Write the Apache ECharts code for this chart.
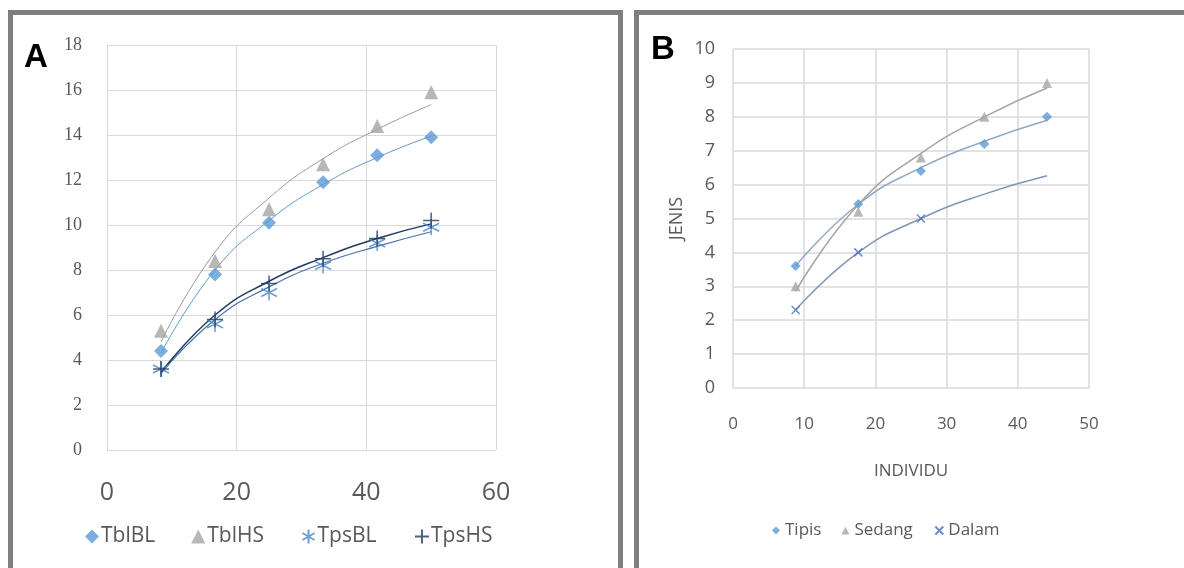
<!DOCTYPE html>
<html><head><meta charset="utf-8">
<script src="https://cdn.jsdelivr.net/npm/echarts@6/dist/echarts.min.js"></script>
<style>html,body{margin:0;padding:0;background:#fff}#c{width:1184px;height:568px}</style>
</head><body><div id="c"></div>
<script>
// Panel A
const xA = [8.33, 16.67, 25, 33.33, 41.67, 50];
const tblBL = [4.4, 7.8, 10.1, 11.9, 13.1, 13.9];
const tblHS = [5.3, 8.4, 10.7, 12.7, 14.4, 15.9];
const tpsBL = [3.6, 5.6, 7.0, 8.2, 9.2, 9.9];
const tpsHS = [3.6, 5.8, 7.4, 8.5, 9.4, 10.2];
// trend lines
const trendTblBL = [4.3, 8.0, 10.2, 11.8, 13.0, 13.95];
const trendTblHS = [4.8, 8.8, 11.2, 12.95, 14.25, 15.35];
const trendTpsBL = [3.4, 5.8, 7.25, 8.3, 9.05, 9.7];
const trendTpsHS = [3.45, 6.0, 7.5, 8.55, 9.4, 10.05];
const namesA = ['TblBL', 'TblHS', 'TpsBL', 'TpsHS'];
// Panel B
const xB = [8.8, 17.6, 26.4, 35.3, 44.1];
const tipis = [3.6, 5.43, 6.4, 7.2, 8.0];
const sedang = [3.0, 5.2, 6.8, 8.0, 9.0];
const dalam = [2.3, 4.0, 5.0];
const trendTipis = [3.6, 5.42, 6.5, 7.28, 7.9];
const trendSedang = [2.85, 5.41, 6.92, 8.0, 8.85];
const trendDalam = [2.3, 4.0, 5.0, 5.72, 6.26];
const namesB = ['Tipis', 'Sedang', 'Dalam'];

const pair = (xs, ys) => ys.map((v, i) => [xs[i], v]);
const asterisk = 'path://M5,0L5,10M0.67,2.5L9.33,7.5M0.67,7.5L9.33,2.5';
const plus = 'path://M5,0L5,10M0,5L10,5';
const cross = 'path://M0,0L10,10M0,10L10,0';

const chart = echarts.init(document.getElementById('c'));
const gridCol = '#d9d9d9';
const txt = '#595959';
function trend(name, data, xi, col, w) {
  return {type: 'line', name: name + '_t', xAxisIndex: xi, yAxisIndex: xi, data: data, smooth: 0.5,
    showSymbol: false, symbol: 'none', silent: true, z: 1,
    lineStyle: {color: col, width: w}};
}
chart.setOption({
  animation: false,
  graphic: [
    {type: 'rect', shape: {x: 10.5, y: 12.5, width: 610, height: 560}, style: {fill: 'none', stroke: '#7f7f7f', lineWidth: 5}},
    {type: 'rect', shape: {x: 636.5, y: 12.5, width: 600, height: 560}, style: {fill: 'none', stroke: '#7f7f7f', lineWidth: 5}},
    {type: 'text', left: 24, top: 41, style: {text: 'A', font: '900 33px "Liberation Sans", Arial', fill: '#000'}},
    {type: 'text', left: 651, top: 33, style: {text: 'B', font: '900 33px "Liberation Sans", Arial', fill: '#000'}}
  ],
  grid: [
    {left: 107, top: 45, width: 389, height: 405},
    {left: 733, top: 49, width: 356, height: 339}
  ],
  xAxis: [
    {type: 'value', gridIndex: 0, min: 0, max: 60, interval: 20,
      axisLine: {show: false}, axisTick: {show: false},
      splitLine: {lineStyle: {color: gridCol}},
      axisLabel: {color: txt, fontSize: 25, fontFamily: '"Open Sans", sans-serif', margin: 30}},
    {type: 'value', gridIndex: 1, min: 0, max: 50, interval: 10,
      axisLine: {show: false}, axisTick: {show: false},
      splitLine: {lineStyle: {color: gridCol, width: 1.5}},
      axisLabel: {color: txt, fontSize: 17, fontFamily: '"Open Sans", sans-serif', margin: 28},
      name: 'INDIVIDU', nameLocation: 'middle', nameGap: 75,
      nameTextStyle: {color: txt, fontSize: 17, fontFamily: '"Open Sans", sans-serif'}}
  ],
  yAxis: [
    {type: 'value', gridIndex: 0, min: 0, max: 18, interval: 2,
      axisLine: {show: false}, axisTick: {show: false},
      splitLine: {lineStyle: {color: gridCol}},
      axisLabel: {color: txt, fontSize: 18, fontFamily: '"Liberation Serif", serif', margin: 25}},
    {type: 'value', gridIndex: 1, min: 0, max: 10, interval: 1,
      axisLine: {show: false}, axisTick: {show: false},
      splitLine: {lineStyle: {color: gridCol, width: 1.5}},
      axisLabel: {color: txt, fontSize: 18, fontFamily: '"Open Sans", sans-serif', margin: 18},
      name: 'JENIS', nameLocation: 'middle', nameGap: 47, nameRotate: 90,
      nameTextStyle: {color: txt, fontSize: 18, fontFamily: '"Open Sans", sans-serif'}}
  ],
  legend: [
    {data: [
      {name: 'TblBL', icon: 'diamond'},
      {name: 'TblHS', icon: 'triangle'},
      {name: 'TpsBL', icon: asterisk},
      {name: 'TpsHS', icon: plus}],
     left: 80, top: 521, itemGap: 36, itemWidth: 14, itemHeight: 14,
     textStyle: {color: txt, fontSize: 21, fontFamily: '"Open Sans", sans-serif', padding: [0, 0, 0, -3]}},
    {data: [
      {name: 'Tipis', icon: 'diamond'},
      {name: 'Sedang', icon: 'triangle'},
      {name: 'Dalam', icon: cross}],
     left: 767, top: 517, itemGap: 20, itemWidth: 8, itemHeight: 8,
     textStyle: {color: txt, fontSize: 17, fontFamily: '"Open Sans", sans-serif'}}
  ],
  series: [
    trend('TblHS', pair(xA, trendTblHS), 0, '#9a9a9a', 1),
    trend('TblBL', pair(xA, trendTblBL), 0, '#5b9bd5', 1),
    trend('TpsBL', pair(xA, trendTpsBL), 0, '#4472a8', 1.2),
    trend('TpsHS', pair(xA, trendTpsHS), 0, '#1f3a60', 1.5),
    {type: 'scatter', name: 'TblBL', xAxisIndex: 0, yAxisIndex: 0, data: pair(xA, tblBL), symbol: 'diamond', symbolSize: 14,
      itemStyle: {color: '#5b9bd5'}, z: 3},
    {type: 'scatter', name: 'TblHS', xAxisIndex: 0, yAxisIndex: 0, data: pair(xA, tblHS), symbol: 'triangle', symbolSize: 14,
      itemStyle: {color: '#a5a5a5'}, z: 3},
    {type: 'scatter', name: 'TpsBL', xAxisIndex: 0, yAxisIndex: 0, data: pair(xA, tpsBL), symbol: asterisk, symbolSize: 16,
      itemStyle: {color: 'none', borderColor: '#4a86c8', borderWidth: 1.5}, z: 3},
    {type: 'scatter', name: 'TpsHS', xAxisIndex: 0, yAxisIndex: 0, data: pair(xA, tpsHS), symbol: plus, symbolSize: 16,
      itemStyle: {color: 'none', borderColor: '#1f3a60', borderWidth: 1.5}, z: 4},
    trend('Tipis', pair(xB, trendTipis), 1, '#8fa8c6', 1.5),
    trend('Sedang', pair(xB, trendSedang), 1, '#a5a5a5', 1.5),
    trend('Dalam', pair(xB, trendDalam), 1, '#8196b6', 1.5),
    {type: 'scatter', name: 'Tipis', xAxisIndex: 1, yAxisIndex: 1, data: pair(xB, tipis), symbol: 'diamond', symbolSize: 10,
      itemStyle: {color: '#5b9bd5'}, z: 3},
    {type: 'scatter', name: 'Sedang', xAxisIndex: 1, yAxisIndex: 1, data: pair(xB, sedang), symbol: 'triangle', symbolSize: 10,
      itemStyle: {color: '#a5a5a5'}, z: 3},
    {type: 'scatter', name: 'Dalam', xAxisIndex: 1, yAxisIndex: 1, data: pair(xB.slice(0, dalam.length), dalam), symbol: cross, symbolSize: 8,
      itemStyle: {color: 'none', borderColor: '#4a6fc0', borderWidth: 1.5}, z: 3}
  ]
});
</script></body></html>
